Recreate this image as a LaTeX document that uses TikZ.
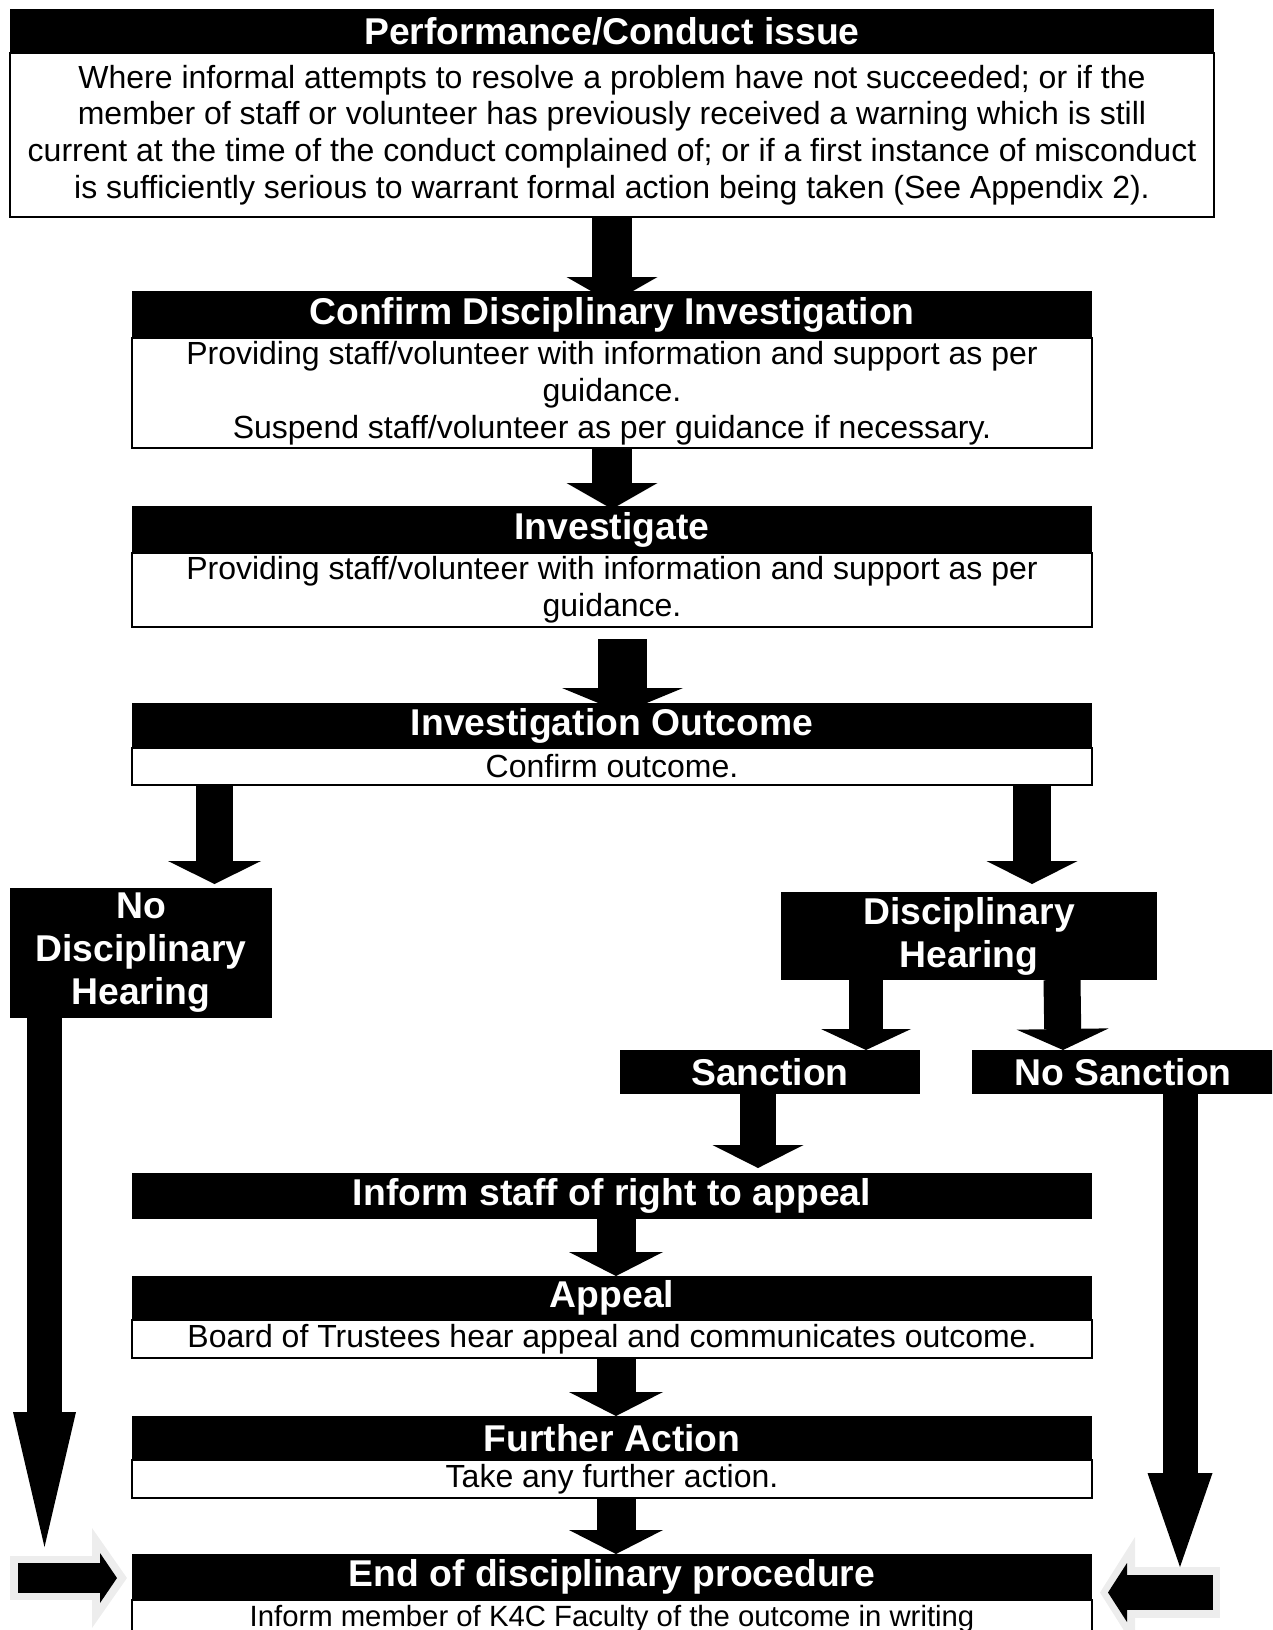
\documentclass[tikz,border=0pt]{standalone}
\usepackage{fontspec}
\setmainfont{Liberation Sans}
\usepackage{tikz}
\usetikzlibrary{positioning,arrows.meta,backgrounds}

\newcommand{\bandfont}{\bfseries\fontsize{37.3}{42.9}\selectfont}
\newcommand{\panelfont}{\fontsize{32}{36.8}\selectfont}

\begin{document}
\begin{tikzpicture}[x=1pt, y=-1pt,
    band/.style={fill=black, text=white, font=\bandfont, align=center, inner sep=0pt, outer sep=0pt, minimum width=960pt, minimum height=#1},
    band/.default=44pt,
    panel/.style={draw=black, line width=2.4pt, fill=white, font=\panelfont, align=center, inner sep=0pt, outer sep=0pt, minimum width=960pt, minimum height=#1},
    fatarrow/.style n args={3}{line width=#1, -{Triangle[width=#2, length=#3, line width=0pt]}},
    sidegray/.style={draw=black!7}]
    \useasboundingbox (0,0) rectangle (1272,1630);
    \clip (0,0) rectangle (1272,1630);

    % main column
    \node[band=44pt, minimum width=1204pt, anchor=north] (perf) at (612,9) {Performance/Conduct issue};
    \node[panel=164pt, minimum width=1204pt, below=0pt of perf] (perfbody) {Where informal attempts to resolve a problem have not succeeded; or if the\\
      member of staff or volunteer has previously received a warning which is still\\
      current at the time of the conduct complained of; or if a first instance of misconduct\\
      is sufficiently serious to warrant formal action being taken (See Appendix 2).};

    \node[band=47pt, anchor=north] (cdi) at (612,291) {Confirm Disciplinary Investigation};
    \node[panel=110pt, below=0pt of cdi] (cdibody) {Providing staff/volunteer with information and support as per\\
      guidance.\\
      Suspend staff/volunteer as per guidance if necessary.};

    \node[band=47pt, anchor=north] (inv) at (612,506) {Investigate};
    \node[panel=74pt, below=0pt of inv] (invbody) {Providing staff/volunteer with information and support as per\\
      guidance.};

    \node[band=45pt, anchor=north] (outc) at (612,703) {Investigation Outcome};
    \node[panel=37pt, below=0pt of outc] (outcbody) {Confirm outcome.};

    % branches
    \node[band=130pt, minimum width=262pt, anchor=north west] (ndh) at (10,888) {No\\Disciplinary\\Hearing};
    \node[band=88pt, minimum width=376pt, anchor=north west] (dh) at (781,892) {Disciplinary\\Hearing};
    \node[band=44pt, minimum width=300pt, anchor=north west] (sanc) at (620,1050) {Sanction};
    \node[band=44pt, minimum width=302pt, anchor=north west] (nosanc) at (972,1050) {No Sanction};

    \node[band=46pt, anchor=north] (inform) at (612,1173) {Inform staff of right to appeal};

    \node[band=44pt, anchor=north] (appeal) at (612,1276) {Appeal};
    \node[panel=38pt, below=0pt of appeal] (appealbody) {Board of Trustees hear appeal and communicates outcome.};

    \node[band=44pt, anchor=north] (further) at (612,1416) {Further Action};
    \node[panel=38pt, below=0pt of further] (furtherbody) {Take any further action.};

    \node[band=46pt, anchor=north] (endb) at (612,1554) {End of disciplinary procedure};
    \node[panel=38pt, font=\fontsize{29.3}{33.7}\selectfont, below=0pt of endb] (endbody) {Inform member of K4C Faculty of the outcome in writing};

    \coordinate (jL) at (44.5,1547);
    \coordinate (jR) at (1180,1567);
    \coordinate (tL) at (18,1578);
    \coordinate (tR) at (1213,1592.5);

    \begin{scope}[on background layer]
    \draw[fatarrow={40pt}{91pt}{26pt}, shorten >=-12pt] (perfbody.south) -- (cdi.north);
    \draw[fatarrow={40pt}{91pt}{26pt}, shorten >=-3pt] (cdibody.south) -- (inv.north);
    \draw[fatarrow={49pt}{121pt}{25pt}, shorten >=-10pt] ([xshift=10.5pt,yshift=-12pt]invbody.south) -- ([xshift=10.5pt]outc.north);
    \draw[fatarrow={37pt}{93pt}{23pt}, shorten >=4pt] ([xshift=-397.5pt]outcbody.south) -- ([xshift=73.5pt]ndh.north);
    \draw[fatarrow={38pt}{91pt}{23pt}, shorten >=8pt] ([xshift=420pt]outcbody.south) -- ([xshift=63pt]dh.north);
    \draw[fatarrow={34pt}{90pt}{21pt}] ([xshift=-103pt]dh.south) -- ([xshift=96pt]sanc.north);
    \draw[fatarrow={37pt}{92pt}{21pt}] ([xshift=93pt]dh.south) -- ([xshift=-60pt]nosanc.north);
    \draw[fatarrow={36pt}{91pt}{23pt}, shorten >=5pt] ([xshift=-12pt]sanc.south) -- ([xshift=146pt]inform.north);
    \draw[fatarrow={39pt}{94pt}{24pt}] ([xshift=4pt]inform.south) -- ([xshift=4pt]appeal.north);
    \draw[fatarrow={39pt}{94pt}{24pt}] ([xshift=4pt]appealbody.south) -- ([xshift=4pt]further.north);
    \draw[fatarrow={39pt}{94pt}{24pt}] ([xshift=4pt]furtherbody.south) -- ([xshift=4pt]endb.north);

    % side arrows into the last box
    \draw[fatarrow={44pt}{100pt}{35pt}, sidegray, shorten >=5pt, shorten <=-8pt] (tL) -- (tL -| endb.west);
    \draw[fatarrow={30pt}{50pt}{17pt}, shorten >=15pt] (tL) -- (tL -| endb.west);
    \draw[fatarrow={51pt}{111pt}{35pt}, sidegray, shorten >=8pt, shorten <=-7pt] (tR) -- (tR -| endb.east);
    \draw[fatarrow={35pt}{59pt}{19pt}, shorten >=16pt] (tR) -- (tR -| endb.east);

    \draw[fatarrow={35pt}{63pt}{135pt}] (jL |- ndh.south) -- (jL);
    \draw[fatarrow={35pt}{65pt}{94pt}] (jR |- nosanc.south) -- (jR);
    \end{scope}
\end{tikzpicture}
\end{document}
